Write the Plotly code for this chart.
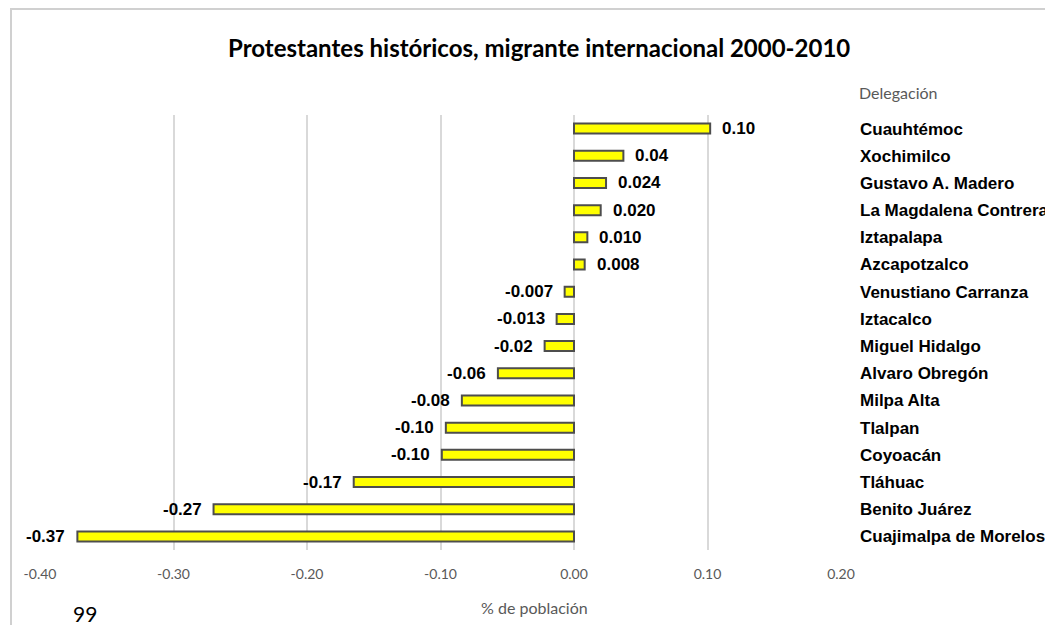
import plotly.graph_objects as go

categories = ["Cuauhtémoc", "Xochimilco", "Gustavo A. Madero", "La Magdalena Contreras",
              "Iztapalapa", "Azcapotzalco", "Venustiano Carranza", "Iztacalco",
              "Miguel Hidalgo", "Alvaro Obregón", "Milpa Alta", "Tlalpan",
              "Coyoacán", "Tláhuac", "Benito Juárez", "Cuajimalpa de Morelos"]
values = [0.102, 0.037, 0.024, 0.020, 0.010, 0.008, -0.007, -0.013,
          -0.022, -0.057, -0.084, -0.096, -0.099, -0.165, -0.270, -0.372]
value_labels = ["0.10", "0.04", "0.024", "0.020", "0.010", "0.008", "-0.007", "-0.013",
                "-0.02", "-0.06", "-0.08", "-0.10", "-0.10", "-0.17", "-0.27", "-0.37"]
x_ticks = [-0.4, -0.3, -0.2, -0.1, 0.0, 0.1, 0.2]
x_tick_labels = ["-0.40", "-0.30", "-0.20", "-0.10", "0.00", "0.10", "0.20"]

OFF = 8  # page body margin
W, H = 1053 - OFF, 633 - 2 * OFF  # figure fits the window (no scrollbars)
PL, PR, PT, PB = 40, 841, 115, 550  # plot area in page pixels


def px(x):
    return (x - PL) / (PR - PL)


def py(y):
    return (PB - y) / (PB - PT)


fig = go.Figure()
fig.add_trace(go.Bar(
    y=categories, x=values, orientation="h",
    marker=dict(color="#FFFF00", line=dict(color="#4d4d4d", width=2)),
    hoverinfo="x+y",
))

label_font = dict(family="Liberation Sans", size=17, color="#000000", weight="bold")
annotations = []
for cat, val, lab in zip(categories, values, value_labels):
    annotations.append(dict(
        text=lab, x=val, y=cat, xref="x", yref="y", showarrow=False,
        xanchor="left" if val >= 0 else "right", yanchor="middle",
        xshift=10 if val >= 0 else -10, font=label_font))

annotations += [
    dict(text="<b>Protestantes históricos, migrante internacional 2000-2010</b>",
         xref="paper", yref="paper", x=px(539), y=py(47), showarrow=False,
         xanchor="center", yanchor="middle",
         font=dict(family="Lato", size=24, color="#000000")),
    dict(text="Delegación", xref="paper", yref="paper", x=px(857), y=py(93),
         showarrow=False, xanchor="left", yanchor="middle",
         font=dict(family="Lato", size=16, color="#595959")),
    dict(text="% de población", xref="paper", yref="paper", x=px(534), y=py(607),
         showarrow=False, xanchor="center", yanchor="middle",
         font=dict(family="Lato", size=16, color="#595959")),
    dict(text="99", xref="paper", yref="paper", x=px(85), y=py(613),
         showarrow=False, xanchor="center", yanchor="middle",
         font=dict(family="Lato", size=21, color="#000000")),
]

fig.update_layout(
    autosize=False, width=W, height=H,
    margin=dict(l=PL - OFF, r=W - (PR - OFF), t=PT - OFF, b=H - (PB - OFF), pad=0,
                autoexpand=False),
    paper_bgcolor="#ffffff", plot_bgcolor="#ffffff",
    bargap=0.63, showlegend=False,
    xaxis=dict(range=[-0.4, 0.2], tickvals=x_ticks, ticktext=x_tick_labels,
               automargin=False,
               showgrid=True, gridcolor="#d9d9d9", gridwidth=1.5, zeroline=False,
               showline=False, ticks="", ticklabelstandoff=14,
               tickfont=dict(family="Lato", size=14, color="#595959")),
    yaxis=dict(categoryorder="array", categoryarray=categories, autorange="reversed",
               automargin=False,
               side="right", showgrid=False, zeroline=False, showline=False, ticks="",
               ticklabelstandoff=18,
               tickfont=dict(family="Liberation Sans", size=17, color="#000000", weight="bold")),
    shapes=[dict(type="rect", xref="paper", yref="paper",
                 x0=px(11), x1=px(1075), y0=py(660), y1=py(9),
                 line=dict(color="#d0d0d0", width=2), fillcolor="rgba(0,0,0,0)", layer="below")],
    annotations=annotations,
)

fig.write_html("out.html")
